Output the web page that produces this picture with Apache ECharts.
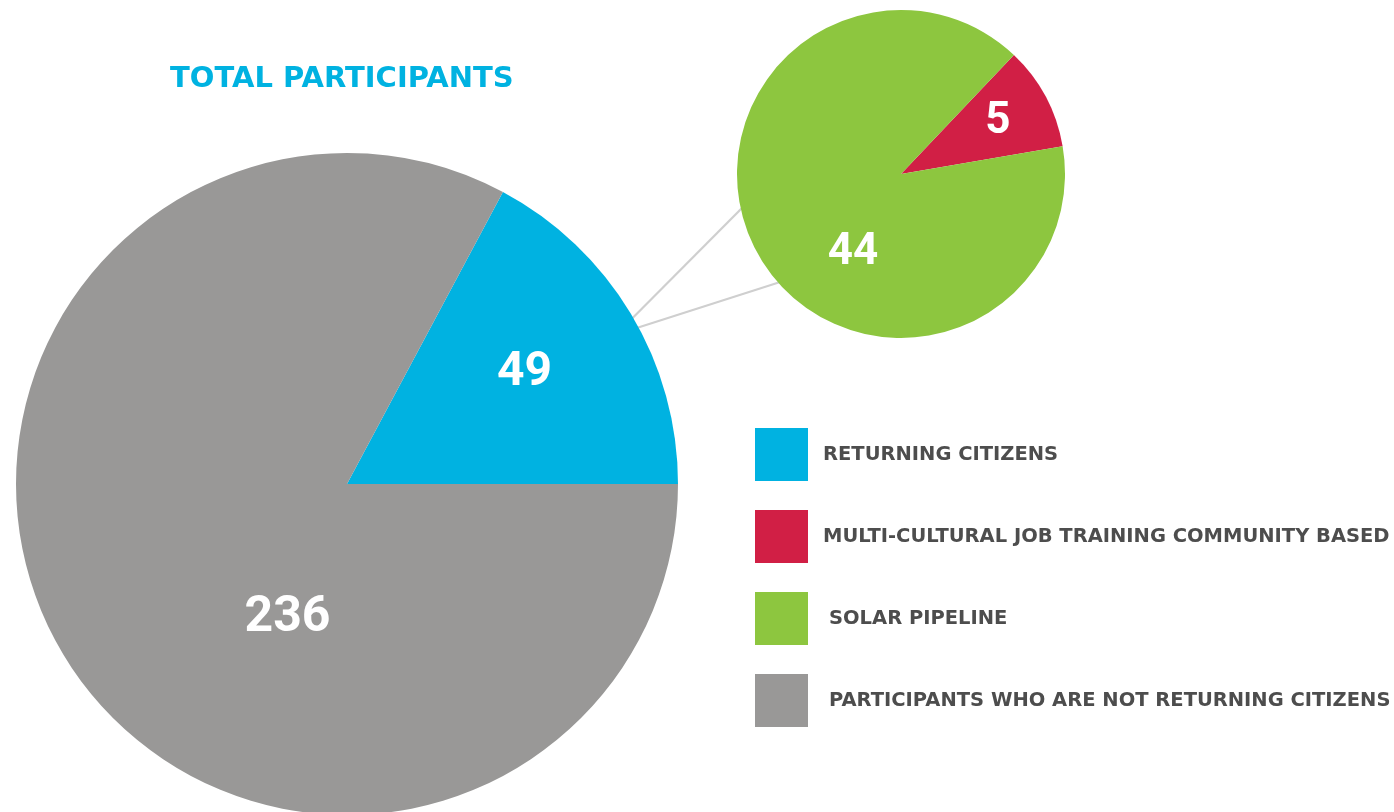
<!DOCTYPE html>
<html>
<head>
<meta charset="utf-8">
<script src="https://cdn.jsdelivr.net/npm/echarts@6/dist/echarts.min.js"></script>
<style>
html,body{margin:0;padding:0;background:#fff;}
#chart{width:1394px;height:812px;}
</style>
</head>
<body>
<div id="chart"></div>
<script>
// ---- data ----
const titleText = 'TOTAL PARTICIPANTS';
const mainNames = ['RETURNING CITIZENS', 'PARTICIPANTS WHO ARE NOT RETURNING CITIZENS'];
const mainValues = [49, 236];
const subNames = ['MULTI-CULTURAL JOB TRAINING COMMUNITY BASED', 'SOLAR PIPELINE'];
const subValues = [5, 44];
const legendOrder = ['RETURNING CITIZENS', 'MULTI-CULTURAL JOB TRAINING COMMUNITY BASED', 'SOLAR PIPELINE', 'PARTICIPANTS WHO ARE NOT RETURNING CITIZENS'];

// ---- style ----
const colors = {
  'RETURNING CITIZENS': '#00B2E1',
  'PARTICIPANTS WHO ARE NOT RETURNING CITIZENS': '#999897',
  'MULTI-CULTURAL JOB TRAINING COMMUNITY BASED': '#D11F45',
  'SOLAR PIPELINE': '#8DC63F'
};
const FONT = 'Roboto, "DejaVu Sans", sans-serif';
const TFONT = '"DejaVu Sans", Roboto, sans-serif';
const mainC = [347, 484], mainR = 331;
const subC = [901, 174], subR = 164;
const mainLabelStyle = [
  {fontSize: 48, offset: [33, -24]},
  {fontSize: 50, offset: [85, 48]}
];
const subLabelStyle = [
  {fontSize: 44, offset: [22, -12]},
  {fontSize: 44, offset: [27, 39]}
];

const mainTotal = mainValues.reduce((a, b) => a + b, 0);
const mainStart = mainValues[0] / mainTotal * 360;

function pt(c, r, deg) {
  const a = deg * Math.PI / 180;
  return [c[0] + r * Math.cos(a), c[1] - r * Math.sin(a)];
}
const connectors = [[30.1, 191.9], [28.3, 221.8]].map(([a1, a2]) => {
  const p1 = pt(mainC, mainR - 2, a1), p2 = pt(subC, subR - 2, a2);
  return {
    type: 'line', z: 0, silent: true,
    shape: {x1: p1[0], y1: p1[1], x2: p2[0], y2: p2[1]},
    style: {stroke: '#CFCFCF', lineWidth: 2.2}
  };
});

function buildData(names, values, styles) {
  return names.map((n, i) => ({
    name: n, value: values[i],
    itemStyle: {color: colors[n]},
    label: {fontSize: styles[i].fontSize, offset: styles[i].offset}
  }));
}

const chart = echarts.init(document.getElementById('chart'), null, {renderer: 'canvas'});
chart.setOption({
  backgroundColor: '#ffffff',
  animation: false,
  title: {
    text: titleText, left: 165, top: 60,
    textStyle: {color: '#00B2E1', fontSize: 29, fontWeight: 'bold', fontFamily: TFONT}
  },
  legend: {
    orient: 'vertical', left: 750, top: 423,
    itemWidth: 53, itemHeight: 53, itemGap: 29,
    icon: 'rect', selectedMode: false,
    data: legendOrder.map((n, i) => ({
      name: n,
      textStyle: {padding: [0, 0, 0, i >= 2 ? 16 : 10]}
    })),
    textStyle: {color: '#4D4D4D', fontSize: 19.5, fontWeight: 'bold', fontFamily: TFONT}
  },
  graphic: connectors,
  series: [
    {
      type: 'pie', z: 2, silent: true,
      center: mainC, radius: mainR,
      startAngle: mainStart, clockwise: true,
      label: {show: true, position: 'inside', formatter: '{c}', color: '#fff', fontWeight: 'bold', fontFamily: FONT},
      labelLine: {show: false},
      itemStyle: {borderWidth: 0},
      data: buildData(mainNames, mainValues, mainLabelStyle)
    },
    {
      type: 'pie', z: 3, silent: true,
      center: subC, radius: subR,
      startAngle: 46.5, clockwise: true,
      label: {show: true, position: 'inside', formatter: '{c}', color: '#fff', fontWeight: 'bold', fontFamily: FONT},
      labelLine: {show: false},
      itemStyle: {borderWidth: 0},
      data: buildData(subNames, subValues, subLabelStyle)
    }
  ]
});
</script>
</body>
</html>
